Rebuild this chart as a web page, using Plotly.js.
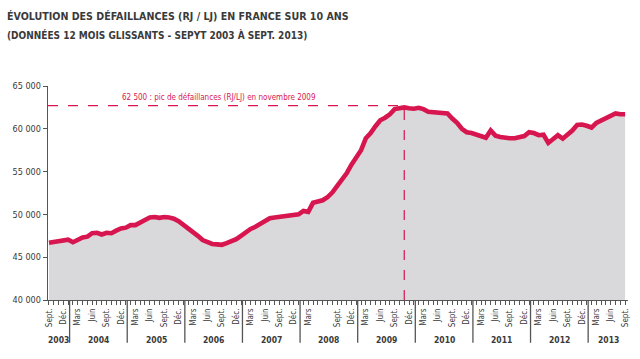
<!DOCTYPE html>
<html>
<head>
<meta charset="utf-8">
<script src="https://cdn.plot.ly/plotly-3.0.1.min.js"></script>
<style>
  html, body { margin: 0; padding: 0; background: #fff; }
  #chart { width: 640px; height: 359px; }
</style>
</head>
<body>
<div id="chart"></div>
<script>
// Monthly rolling-12-month business failures, Sept 2003 -> Sept 2013
const startLabel = "Sept. 2003";
const failures = [
  46700, 46800, 46850, 46900, 47050, 46750, 47100, 47300, 47400, 47800, 47850, 47650, // 2003-09 .. 2004-08
  47850, 47800, 48100, 48350, 48450, 48750, 48750, 49000, 49350, 49650, 49700, 49600, // 2004-09 .. 2005-08
  49700, 49650, 49500, 49200, 48800, 48300, 47900, 47500, 47000, 46700, 46550, 46500, // 2005-09 .. 2006-08
  46450, 46650, 46850, 47100, 47500, 47950, 48300, 48550, 48850, 49100, 49550, 49650, // 2006-09 .. 2007-08
  49700, 49850, 49800, 49900, 50000, 50400, 50300, 51350, 51500, 51650, 52000, 52550, // 2007-09 .. 2008-08
  53300, 54000, 54800, 55800, 56700, 57500, 58900, 59500, 60300, 61000, 61300, 61700, // 2008-09 .. 2009-08
  62300, 62350, 62500, 62400, 62350, 62450, 62300, 62000, 61950, 61900, 61850, 61800, // 2009-09 .. 2010-08
  61200, 60700, 60000, 59600, 59500, 59350, 59200, 58950, 59800, 59200, 59050, 58950, // 2010-09 .. 2011-08
  58900, 58900, 59000, 59150, 59600, 59500, 59250, 59300, 58350, 58800, 59250, 58850, // 2011-09 .. 2012-08
  59300, 59800, 60450, 60500, 60350, 60150, 60700, 61000, 61300, 61500, 61800, 61700, // 2012-09 .. 2013-08
  61700                                                                              // 2013-09
];
const quarterLabels = [
  "Sept.", "Déc.",
  "Mars", "Juin", "Sept.", "Déc.",
  "Mars", "Juin", "Sept.", "Déc.",
  "Mars", "Juin", "Sept.", "Déc.",
  "Mars", "Juin", "Sept.", "Déc.",
  "Mars", "", "Sept.", "Déc.",
  "Mars", "Juin", "Sept.", "Déc.",
  "Mars", "Juin", "Sept.", "Déc.",
  "Mars", "Juin", "Sept.", "Déc.",
  "Mars", "Juin", "Sept.", "Déc.",
  "Mars", "Juin", "Sept."
];
const years = ["2003", "2004", "2005", "2006", "2007", "2008", "2009", "2010", "2011", "2012", "2013"];
const yTickValues = [40000, 45000, 50000, 55000, 60000, 65000];
const yTickLabels = ["40 000", "45 000", "50 000", "55 000", "60 000", "65 000"];
const peakValue = 62500;
const peakMonthIndex = 74; // novembre 2009
const peakText = "62 500 : pic de défaillances (RJ/LJ) en novembre 2009";

const FONT = "'Liberation Sans Narrow', 'DejaVu Sans Condensed', 'Arial Narrow', sans-serif";
const RED = "#d7154f";
const GREY_TEXT = "#3a3a3a";

const x = failures.map((_, i) => i);
const tickvals = quarterLabels.map((_, k) => k * 3);
const xMin = -0.2, xMax = 120.6;

// Year separators (between Jan and Feb as in the source) and year label centres
const sepPos = [];
for (let k = 0; k < years.length - 1; k++) sepPos.push(4.3 + 12 * k);
const bounds = [xMin].concat(sepPos, [xMax]);

const shapes = [];
sepPos.forEach(p => shapes.push({
  type: "line", xref: "x", yref: "paper", x0: p, x1: p, y0: 0, y1: -0.2,
  line: { color: "#555", width: 1.3 }
}));
shapes.push({
  type: "line", xref: "x", yref: "y", x0: xMin, x1: peakMonthIndex, y0: peakValue + 200, y1: peakValue + 200,
  line: { color: RED, width: 1.2, dash: "10px,10px" }, layer: "above"
});
shapes.push({
  type: "line", xref: "x", yref: "y", x0: peakMonthIndex, x1: peakMonthIndex, y0: 40000, y1: peakValue,
  line: { color: RED, width: 1.2, dash: "10px,10px" }, layer: "above"
});

const annotations = years.map((yr, k) => ({
  text: "<b>" + yr + "</b>", xref: "x", yref: "paper",
  x: (bounds[k] + bounds[k + 1]) / 2, y: -0.187, yanchor: "middle", xanchor: "center",
  showarrow: false, font: { family: FONT, size: 8.5, color: GREY_TEXT }
}));
annotations.push({
  text: peakText, xref: "x", yref: "y", x: 35.5, y: peakValue + 1200,
  xanchor: "center", yanchor: "middle", showarrow: false,
  font: { family: FONT, size: 8, color: RED }
});
annotations.push({
  text: "<b>(DONNÉES 12 MOIS GLISSANTS - SEPYT 2003 À SEPT. 2013)</b>",
  xref: "paper", yref: "paper", x: -0.075, y: 1.237, xanchor: "left", yanchor: "middle",
  showarrow: false, font: { family: FONT, size: 10, color: GREY_TEXT }
});

const trace = {
  x: x, y: failures, type: "scatter", mode: "lines",
  fill: "tozeroy", fillcolor: "#d9d8da",
  line: { color: RED, width: 4.6, shape: "linear" },
  hoverinfo: "skip"
};

const layout = {
  width: 640, height: 359,
  margin: { l: 48, r: 12, t: 86, b: 59 },
  paper_bgcolor: "#ffffff", plot_bgcolor: "#ffffff",
  showlegend: false,
  title: {
    text: "<b>ÉVOLUTION DES DÉFAILLANCES (RJ / LJ) EN FRANCE SUR 10 ANS</b>",
    xref: "container", yref: "container", x: 7 / 640, xanchor: "left",
    y: 1 - 16 / 359, yanchor: "middle",
    font: { family: FONT, size: 10.6, color: GREY_TEXT }
  },
  xaxis: {
    range: [xMin, xMax], showgrid: false, zeroline: false,
    showline: true, linecolor: "#555", linewidth: 1.3,
    tickmode: "array", tickvals: tickvals, ticktext: quarterLabels,
    tickangle: -90, ticks: "outside", ticklen: 4, tickcolor: "#555", tickwidth: 1,
    minor: { tickmode: "linear", tick0: 0, dtick: 1, ticks: "outside", ticklen: 4, tickcolor: "#555", tickwidth: 1 },
    tickfont: { family: FONT, size: 8, color: GREY_TEXT },
    fixedrange: true
  },
  yaxis: {
    range: [40000, 65000], showgrid: false, zeroline: false,
    showline: true, linecolor: "#555", linewidth: 1.3,
    tickmode: "array", tickvals: yTickValues, ticktext: yTickLabels,
    ticks: "outside", ticklen: 4, tickcolor: "#555",
    tickfont: { family: FONT, size: 9, color: GREY_TEXT },
    fixedrange: true
  },
  shapes: shapes,
  annotations: annotations
};

Plotly.newPlot("chart", [trace], layout, { displayModeBar: false, staticPlot: true });
</script>
</body>
</html>
